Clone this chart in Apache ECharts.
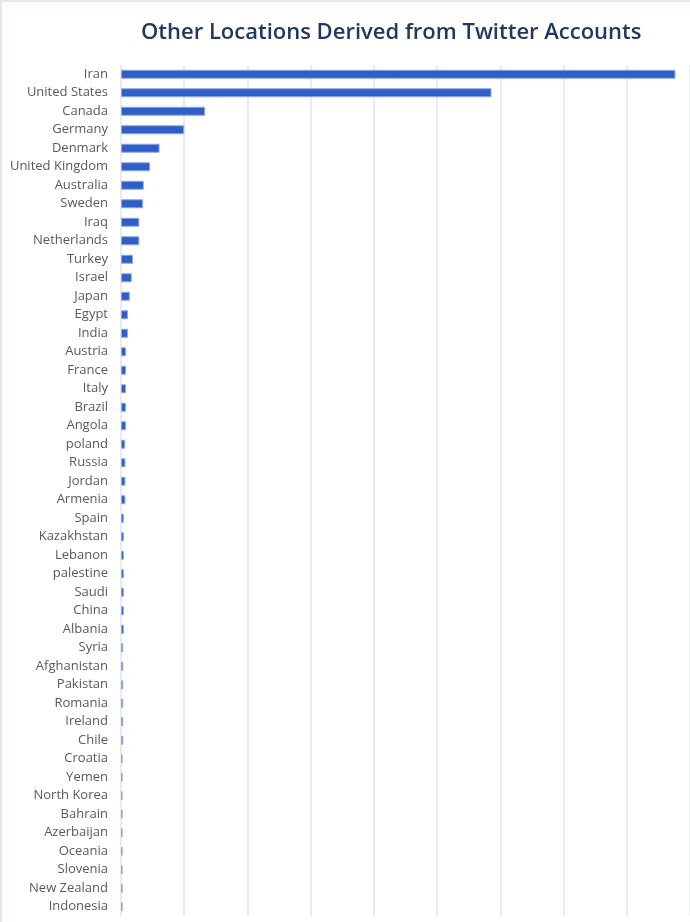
<!DOCTYPE html>
<html>
<head>
<meta charset="utf-8">
<script src="https://cdn.jsdelivr.net/npm/echarts@6/dist/echarts.min.js"></script>
<style>
  html, body { margin: 0; padding: 0; background: #fff; }
  #main { width: 690px; height: 922px; box-sizing: border-box; border-top: 2px solid #e3e7ef; border-left: 2px solid #e3e7ef; }
</style>
</head>
<body>
<div id="main"></div>
<script>
// categories, top to bottom
var countries = ['Iran', 'United States', 'Canada', 'Germany', 'Denmark', 'United Kingdom',
  'Australia', 'Sweden', 'Iraq', 'Netherlands', 'Turkey', 'Israel', 'Japan', 'Egypt', 'India',
  'Austria', 'France', 'Italy', 'Brazil', 'Angola', 'poland', 'Russia', 'Jordan', 'Armenia',
  'Spain', 'Kazakhstan', 'Lebanon', 'palestine', 'Saudi', 'China', 'Albania', 'Syria',
  'Afghanistan', 'Pakistan', 'Romania', 'Ireland', 'Chile', 'Croatia', 'Yemen', 'North Korea',
  'Bahrain', 'Azerbaijan', 'Oceania', 'Slovenia', 'New Zealand', 'Indonesia'];

// bar lengths (one grid step = 100)
var accounts = [877, 586, 133, 100, 61, 46,
  36, 35, 29, 29, 19, 17, 14, 11, 11,
  8, 8, 8, 8, 8, 6.5, 7, 7, 7,
  4.5, 4.5, 4.5, 4.5, 4.5, 4.5, 4.5, 3.5,
  3.5, 3.5, 3.5, 3.5, 3.5, 2.5, 2.5, 2.5,
  2.5, 2.5, 2.5, 2.5, 2.5, 2.5];

var myChart = echarts.init(document.getElementById('main'));
var option = {
  animation: false,
  title: {
    text: 'Other Locations Derived from Twitter Accounts',
    left: 134,
    top: 15,
    textStyle: {
      fontFamily: 'Open Sans',
      fontSize: 22,
      fontWeight: 600,
      color: '#1f3864'
    }
  },
  grid: {
    left: 119,
    right: -1,
    top: 63,
    bottom: 6
  },
  xAxis: {
    type: 'value',
    min: 0,
    max: 900,
    interval: 100,
    axisLabel: { show: false },
    axisLine: { show: false },
    axisTick: { show: false },
    splitLine: { lineStyle: { color: '#e1e5ee', width: 1.5 } }
  },
  yAxis: {
    type: 'category',
    inverse: true,
    data: countries,
    axisLine: { show: false },
    axisTick: { show: false },
    axisLabel: {
      margin: 13,
      fontFamily: 'Open Sans',
      fontSize: 13,
      color: '#595959'
    }
  },
  series: [{
    type: 'bar',
    data: accounts,
    barWidth: 9,
    itemStyle: {
      color: '#2f5fc6',
      borderColor: '#8ea8e0',
      borderWidth: 1
    }
  }]
};
myChart.setOption(option);
</script>
</body>
</html>
